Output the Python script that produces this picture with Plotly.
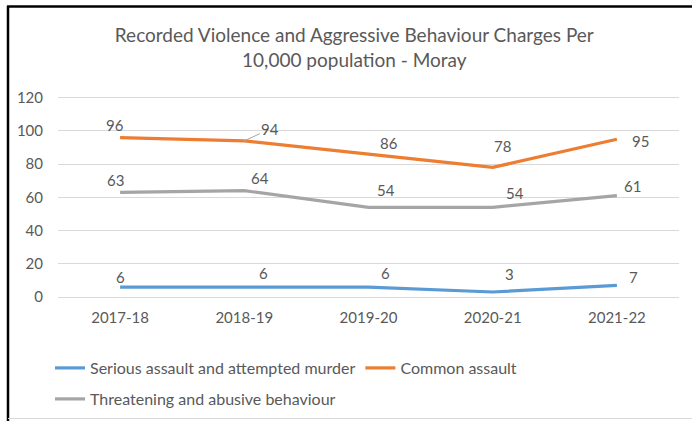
import plotly.graph_objects as go

# ---- data ----
years = ["2017-18", "2018-19", "2019-20", "2020-21", "2021-22"]
serious = [6, 6, 6, 3, 7]
common = [96, 94, 86, 78, 95]
threatening = [63, 64, 54, 54, 61]
series_names = ["Serious assault and attempted murder", "Common assault",
                "Threatening and abusive behaviour"]
title_text = "Recorded Violence and Aggressive Behaviour Charges Per<br>10,000 population - Moray"
y_ticks = [0, 20, 40, 60, 80, 100, 120]

# ---- style ----
W, H = 692, 421
YMAX = 121
L, R, T, B = 58, 13, 96, 124
FONT = "Lato"
TXT = "#595959"
colors = ["#5B9BD5", "#ED7D31", "#A5A5A5"]

pw = W - L - R
ph = H - T - B


def px_x(x):
    return (x - L) / pw


def px_y(y):
    return (H - B - y) / ph


fig = go.Figure()
all_series = [serious, common, threatening]
legends = ["legend", "legend", "legend2"]
for name, vals, col, lg in zip(series_names, all_series, colors, legends):
    fig.add_trace(go.Scatter(x=years, y=vals, name=name, mode="lines",
                             line=dict(color=col, width=3.2), legend=lg,
                             hoverinfo="skip"))

# label offsets (px): (dx, dy) per point, dy positive = up
offsets = [
    [(0, 10), (19, 14), (17, 14), (17, 18), (17, 8)],
    [(-5, 13), None, (20, 11), (10, 21), (24, -2)],
    [(-5, 12), (16, 13), (17, 17), (22, 14), (16, 10)],
]
annotations = []
for vals, offs in zip(all_series, offsets):
    for x, v, o in zip(years, vals, offs):
        if o is None:
            annotations.append(dict(x=x, y=v, text=str(v), showarrow=True,
                                    arrowhead=0, arrowwidth=1, arrowcolor="#A6A6A6",
                                    ax=26, ay=-12, standoff=0,
                                    font=dict(family=FONT, size=15, color=TXT)))
        else:
            annotations.append(dict(x=x, y=v, text=str(v), showarrow=False,
                                    xshift=o[0], yshift=o[1],
                                    font=dict(family=FONT, size=15, color=TXT)))

shapes = [
    # chart frame (left and top black, bottom light grey)
    dict(type="line", xref="paper", yref="paper", x0=px_x(8), x1=px_x(8),
         y0=px_y(425), y1=px_y(6), line=dict(color="#000000", width=2.5)),
    dict(type="line", xref="paper", yref="paper", x0=px_x(7), x1=px_x(700),
         y0=px_y(6.5), y1=px_y(6.5), line=dict(color="#000000", width=2.5)),
    dict(type="line", xref="paper", yref="paper", x0=px_x(8), x1=px_x(700),
         y0=px_y(418.5), y1=px_y(418.5), line=dict(color="#D9D9D9", width=1)),
]

fig.update_layout(
    width=W, height=H,
    margin=dict(l=L, r=R, t=T, b=B, autoexpand=False),
    paper_bgcolor="white", plot_bgcolor="white",
    font=dict(family=FONT, size=15, color=TXT),
    title=dict(text=title_text, xref="container", yref="container",
               x=0.512, xanchor="center", y=1 - 42 / H, yanchor="middle",
               font=dict(family=FONT, size=19, color=TXT)),
    xaxis=dict(type="category", range=[-0.5, 4.5], showgrid=False,
               showline=False, zeroline=False, ticks="", automargin=False,
               ticklabelstandoff=10,
               tickfont=dict(family=FONT, size=15, color=TXT)),
    yaxis=dict(range=[0, YMAX], tickvals=y_ticks, showgrid=True,
               gridcolor="#D9D9D9", gridwidth=1, zeroline=True, automargin=False,
               zerolinecolor="#D9D9D9", zerolinewidth=1, showline=False,
               ticks="", ticklabelstandoff=14,
               tickfont=dict(family=FONT, size=15, color=TXT)),
    legend=dict(orientation="h", x=px_x(50), xanchor="left",
                y=px_y(368), yanchor="middle", font=dict(family=FONT, size=16, color=TXT),
                bgcolor="rgba(0,0,0,0)", itemwidth=30),
    legend2=dict(orientation="h", x=px_x(50), xanchor="left",
                 y=px_y(399), yanchor="middle", font=dict(family=FONT, size=16, color=TXT),
                 bgcolor="rgba(0,0,0,0)", itemwidth=30),
    annotations=annotations,
    shapes=shapes,
    showlegend=True,
)

fig.write_html("out.html", config={"displayModeBar": False},
               post_script="document.body.style.margin='0';document.body.style.overflow='hidden';")
